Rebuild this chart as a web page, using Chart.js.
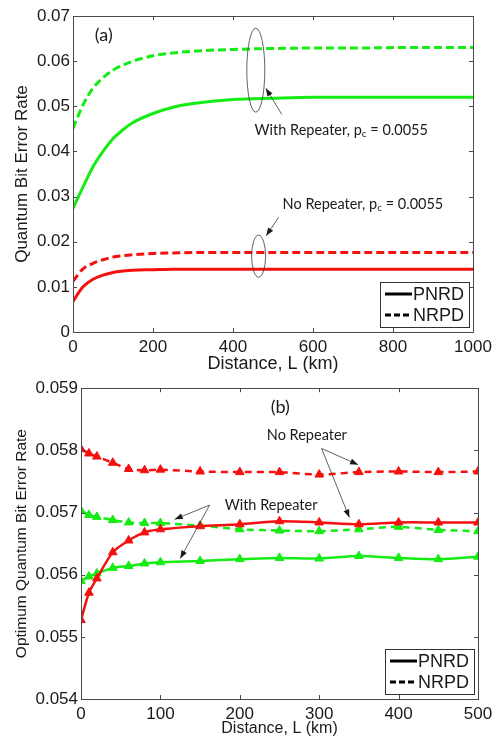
<!DOCTYPE html>
<html>
<head>
<meta charset="utf-8">
<script src="https://cdn.jsdelivr.net/npm/chart.js@4.4.0/dist/chart.umd.min.js"></script>
<style>
  body { margin: 0; background: #fff; }
  #wrap { position: relative; width: 499px; height: 738px; }
  #c1 { position: absolute; left: 0; top: 0; }
  #c2 { position: absolute; left: 0; top: 375px; }
</style>
</head>
<body>
<div id="wrap">
  <canvas id="c1" width="499" height="375"></canvas>
  <canvas id="c2" width="499" height="363"></canvas>
</div>
<script>
// ---- panel (a) ----
var topDist = [0, 25, 50, 75, 100, 125, 150, 200, 250, 300, 400, 500, 600, 700, 800, 900, 1000];
var topRepNRPD = [0.0451, 0.0503, 0.0540, 0.0563, 0.0580, 0.0591, 0.0600, 0.0612, 0.0618, 0.0622, 0.0626, 0.0628, 0.0629, 0.0629, 0.0630, 0.0630, 0.0630];
var topRepPNRD = [0.0274, 0.0321, 0.0366, 0.0400, 0.0428, 0.0448, 0.0464, 0.0484, 0.0498, 0.0506, 0.0515, 0.0518, 0.0520, 0.0520, 0.0520, 0.0520, 0.0520];
var topNoRepNRPD = [0.0112, 0.0140, 0.0152, 0.0160, 0.0166, 0.0169, 0.0171, 0.0174, 0.0175, 0.0176, 0.0176, 0.0176, 0.0176, 0.0176, 0.0176, 0.0176, 0.0176];
var topNoRepPNRD = [0.0068, 0.0100, 0.0117, 0.0126, 0.0132, 0.0135, 0.0137, 0.0138, 0.0139, 0.0139, 0.0139, 0.0139, 0.0139, 0.0139, 0.0139, 0.0139, 0.0139];
var topXTicks = [0, 200, 400, 600, 800, 1000];
var topXLabels = ['0', '200', '400', '600', '800', '1000'];
var topYTicks = [0, 0.01, 0.02, 0.03, 0.04, 0.05, 0.06, 0.07];
var topYLabels = ['0', '0.01', '0.02', '0.03', '0.04', '0.05', '0.06', '0.07'];

// ---- panel (b) ----
var botDist = [0, 10, 20, 40, 60, 80, 100, 150, 200, 250, 300, 350, 400, 450, 500];
var botNoRepNRPD = [0.05802, 0.05795, 0.05790, 0.05780, 0.05770, 0.05768, 0.05769, 0.05766, 0.05765, 0.05765, 0.05761, 0.05765, 0.05766, 0.05765, 0.05766];
var botNoRepPNRD = [0.05527, 0.05571, 0.05594, 0.05636, 0.05655, 0.05668, 0.05673, 0.05678, 0.05681, 0.05686, 0.05684, 0.05681, 0.05684, 0.05684, 0.05684];
var botRepNRPD = [0.05703, 0.05696, 0.05693, 0.05688, 0.05684, 0.05683, 0.05683, 0.05679, 0.05673, 0.05671, 0.05670, 0.05673, 0.05677, 0.05672, 0.05670];
var botRepPNRD = [0.05590, 0.05597, 0.05602, 0.05611, 0.05614, 0.05618, 0.05620, 0.05622, 0.05625, 0.05627, 0.05626, 0.05630, 0.05627, 0.05625, 0.05629];
var botXTicks = [0, 100, 200, 300, 400, 500];
var botXLabels = ['0', '100', '200', '300', '400', '500'];
var botYTicks = [0.054, 0.055, 0.056, 0.057, 0.058, 0.059];
var botYLabels = ['0.054', '0.055', '0.056', '0.057', '0.058', '0.059'];

var legendLabels = ['PNRD', 'NRPD'];

var GREEN = '#14ec14';
var RED = '#f51010';

Chart.defaults.font.family = '"Liberation Sans", Arial, sans-serif';
Chart.defaults.color = '#1a1a1a';

function pairs(xs, ys) {
    return xs.map(function (x, i) { return { x: x, y: ys[i] }; });
}

// box + inward ticks, matlab style
var frame = {
    id: 'frame',
    afterDatasetsDraw: function (chart) {
        var ctx = chart.ctx, a = chart.chartArea;
        var xs = chart.scales.x, ys = chart.scales.y;
        ctx.save();
        ctx.strokeStyle = '#4a4a4a';
        ctx.lineWidth = 1;
        ctx.beginPath();
        xs.ticks.forEach(function (t) {
            var p = Math.round(xs.getPixelForValue(t.value)) + 0.5;
            ctx.moveTo(p, a.bottom); ctx.lineTo(p, a.bottom - 4);
            ctx.moveTo(p, a.top); ctx.lineTo(p, a.top + 4);
        });
        ys.ticks.forEach(function (t) {
            var p = Math.round(ys.getPixelForValue(t.value)) + 0.5;
            ctx.moveTo(a.left, p); ctx.lineTo(a.left + 4, p);
            ctx.moveTo(a.right, p); ctx.lineTo(a.right - 4, p);
        });
        ctx.stroke();
        ctx.strokeRect(Math.round(a.left) + 0.5, Math.round(a.top) + 0.5, Math.round(a.width), Math.round(a.height));
        ctx.restore();
    }
};

function drawArrow(ctx, x1, y1, x2, y2) {
    ctx.beginPath();
    ctx.moveTo(x1, y1); ctx.lineTo(x2, y2);
    ctx.stroke();
    var ang = Math.atan2(y2 - y1, x2 - x1);
    ctx.beginPath();
    ctx.moveTo(x2, y2);
    ctx.lineTo(x2 - 8 * Math.cos(ang) + 3 * Math.sin(ang), y2 - 8 * Math.sin(ang) - 3 * Math.cos(ang));
    ctx.lineTo(x2 - 8 * Math.cos(ang) - 3 * Math.sin(ang), y2 - 8 * Math.sin(ang) + 3 * Math.cos(ang));
    ctx.closePath();
    ctx.fill();
}

function drawSubText(ctx, x, y, pre, sub, post) {
    ctx.textAlign = 'left';
    ctx.textBaseline = 'middle';
    ctx.font = '14.5px Lato, sans-serif';
    ctx.fillText(pre, x, y);
    var w = ctx.measureText(pre).width;
    if (sub) {
        ctx.font = '10px Lato, sans-serif';
        ctx.fillText(sub, x + w, y + 4);
        w += ctx.measureText(sub).width;
        ctx.font = '14.5px Lato, sans-serif';
        ctx.fillText(post, x + w, y);
    }
}

function makeNotes(items) {
    return {
        id: 'notes',
        afterDatasetsDraw: function (chart) {
            var ctx = chart.ctx, xs = chart.scales.x, ys = chart.scales.y, a = chart.chartArea;
            function P(x, y) { return [xs.getPixelForValue(x), ys.getPixelForValue(y)]; }
            ctx.save();
            ctx.strokeStyle = '#3a3a3a';
            ctx.fillStyle = '#1a1a1a';
            ctx.lineWidth = 0.8;
            items.forEach(function (it) {
                if (it.type === 'label') {
                    var p = P(it.x, it.y);
                    ctx.font = '18px Lato, sans-serif';
                    ctx.textAlign = 'center';
                    ctx.textBaseline = 'middle';
                    ctx.fillText(it.text, p[0], p[1]);
                } else if (it.type === 'text') {
                    var q = P(it.x, it.y);
                    drawSubText(ctx, q[0], q[1], it.pre, it.sub, it.post);
                } else if (it.type === 'ellipse') {
                    var c = P(it.x, it.y);
                    ctx.beginPath();
                    ctx.ellipse(c[0], c[1], it.rx, it.ry, 0, 0, Math.PI * 2);
                    ctx.stroke();
                } else if (it.type === 'arrow') {
                    var s = P(it.x1, it.y1), e = P(it.x2, it.y2);
                    drawArrow(ctx, s[0], s[1], e[0], e[1]);
                }
            });
            // legend box
            var lw = 89, lh = 45;
            var lx = a.right - 4 - lw, ly = a.bottom - 5 - lh;
            ctx.fillStyle = '#fff';
            ctx.fillRect(lx, ly, lw, lh);
            ctx.strokeStyle = '#333';
            ctx.lineWidth = 1;
            ctx.strokeRect(Math.round(lx) + 0.5, Math.round(ly) + 0.5, lw, lh);
            ctx.font = '18px "Liberation Sans", Arial, sans-serif';
            ctx.textAlign = 'left';
            ctx.textBaseline = 'middle';
            legendLabels.forEach(function (lab, i) {
                var yy = ly + 12 + i * 21;
                ctx.strokeStyle = '#000';
                ctx.lineWidth = 3;
                ctx.setLineDash(i === 0 ? [] : [6, 3]);
                ctx.beginPath();
                ctx.moveTo(lx + 5, yy); ctx.lineTo(lx + 32, yy);
                ctx.stroke();
                ctx.setLineDash([]);
                ctx.fillStyle = '#1a1a1a';
                ctx.fillText(lab, lx + 33, yy + 1);
            });
            ctx.restore();
        }
    };
}

function lineSet(xs, ys, color, dashed, marker) {
    return {
        data: pairs(xs, ys),
        borderColor: color,
        backgroundColor: color,
        borderWidth: marker ? 2.5 : 3,
        borderDash: dashed ? (marker ? [7, 5] : [8, 4]) : [],
        pointRadius: marker ? 5 : 0,
        pointStyle: 'triangle',
        pointBorderWidth: 1,
        tension: marker ? 0.25 : 0.4,
        cubicInterpolationMode: marker ? 'default' : 'monotone',
        fill: false
    };
}

function axes(xMin, xMax, xTicks, xLabels, yMin, yMax, yTicks, yLabels, yTitle, w, h, xTitleSize, yTitleSize, yTitlePad) {
    return {
        x: {
            type: 'linear', min: xMin, max: xMax,
            afterBuildTicks: function (s) { s.ticks = xTicks.map(function (v) { return { value: v }; }); },
            afterFit: function (s) { s.height = h; },
            grid: { display: false, drawTicks: false },
            border: { display: false },
            ticks: {
                font: { size: 17 }, padding: 5, maxRotation: 0,
                callback: function (v, i) { return xLabels[i]; }
            },
            title: { display: true, text: 'Distance, L (km)', font: { size: xTitleSize }, padding: { top: 0, bottom: 0 } }
        },
        y: {
            type: 'linear', min: yMin, max: yMax,
            afterBuildTicks: function (s) { s.ticks = yTicks.map(function (v) { return { value: v }; }); },
            afterFit: function (s) { s.width = w; },
            grid: { display: false, drawTicks: false },
            border: { display: false },
            ticks: {
                font: { size: 17 }, padding: 3,
                callback: function (v, i) { return yLabels[i]; }
            },
            title: { display: true, text: yTitle, font: { size: yTitleSize }, padding: { top: yTitlePad, bottom: 0 } }
        }
    };
}

var topNotes = [
    { type: 'label', text: '(a)', x: 77, y: 0.0657 },
    { type: 'ellipse', x: 457, y: 0.0580, rx: 9, ry: 42 },
    { type: 'arrow', x1: 522, y1: 0.0482, x2: 482, y2: 0.0540 },
    { type: 'text', x: 454, y: 0.0447, pre: 'With Repeater, p', sub: 'c', post: ' = 0.0055' },
    { type: 'ellipse', x: 464, y: 0.0168, rx: 7, ry: 21 },
    { type: 'arrow', x1: 514, y1: 0.0254, x2: 483, y2: 0.0213 },
    { type: 'text', x: 524, y: 0.0283, pre: 'No Repeater, p', sub: 'c', post: ' = 0.0055' }
];

var botNotes = [
    { type: 'label', text: '(b)', x: 251, y: 0.0587 },
    { type: 'text', x: 234, y: 0.05824, pre: 'No Repeater' },
    { type: 'arrow', x1: 303, y1: 0.05803, x2: 349, y2: 0.05777 },
    { type: 'arrow', x1: 303, y1: 0.05803, x2: 338, y2: 0.05692 },
    { type: 'text', x: 181, y: 0.05712, pre: 'With Repeater' },
    { type: 'arrow', x1: 162, y1: 0.05712, x2: 118, y2: 0.05689 },
    { type: 'arrow', x1: 162, y1: 0.05712, x2: 125, y2: 0.05626 }
];

new Chart(document.getElementById('c1'), {
    type: 'line',
    data: {
        datasets: [
            lineSet(topDist, topRepNRPD, GREEN, true, false),
            lineSet(topDist, topRepPNRD, GREEN, false, false),
            lineSet(topDist, topNoRepNRPD, RED, true, false),
            lineSet(topDist, topNoRepPNRD, RED, false, false)
        ]
    },
    options: {
        responsive: false,
        animation: false,
        layout: { padding: { top: 16, right: 26, left: 0, bottom: 0 } },
        plugins: { legend: { display: false }, tooltip: { enabled: false } },
        scales: axes(0, 1000, topXTicks, topXLabels, 0, 0.07, topYTicks, topYLabels, 'Quantum Bit Error Rate', 73, 43, 18, 17, 12)
    },
    plugins: [frame, makeNotes(topNotes)]
});

new Chart(document.getElementById('c2'), {
    type: 'line',
    data: {
        datasets: [
            lineSet(botDist, botNoRepNRPD, RED, true, true),
            lineSet(botDist, botNoRepPNRD, RED, false, true),
            lineSet(botDist, botRepNRPD, GREEN, true, true),
            lineSet(botDist, botRepPNRD, GREEN, false, true)
        ]
    },
    options: {
        responsive: false,
        animation: false,
        layout: { padding: { top: 9, right: 21, left: 0, bottom: 0 } },
        plugins: { legend: { display: false }, tooltip: { enabled: false } },
        scales: axes(0, 500, botXTicks, botXLabels, 0.054, 0.059, botYTicks, botYLabels, 'Optimum Quantum Bit Error Rate', 81, 39, 16, 15.5, 12)
    },
    plugins: [frame, makeNotes(botNotes)]
});
</script>
</body>
</html>
